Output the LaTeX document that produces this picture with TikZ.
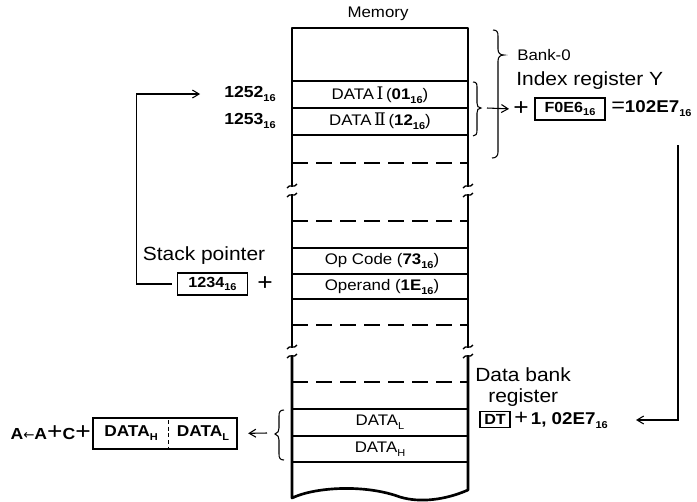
\documentclass[tikz,border=0pt]{standalone}
\usepackage{fontspec}
\setmainfont{Liberation Sans}[FakeStretch=1.1]
\newfontfamily\rn{DejaVu Serif}
\newfontfamily\dv{DejaVu Sans}
\usetikzlibrary{arrows.meta}
\newcommand\fs[1]{\fontsize{#1}{#1}\selectfont}
\newcommand\lo[1]{\raisebox{-0.45ex}{\fontsize{7.5}{8}\selectfont\bfseries #1}}
\newcommand\lr[1]{\raisebox{-0.45ex}{\fontsize{7.5}{8}\selectfont #1}}
\begin{document}
\begin{tikzpicture}[x=0.75pt,y=-0.75pt,
 wall/.style={line width=2pt, line join=round},
 row/.style={line width=0.8pt},
 dsh/.style={line width=0.8pt, dash pattern=on 12pt off 6pt},
 txt/.style={inner sep=0pt, font=\fs{11.5}},
 big/.style={inner sep=0pt, font=\fs{14.3}},
 num/.style={inner sep=0pt, font=\fs{12}\bfseries},
 pls/.style={inner sep=0pt, font=\fs{18}},
 regbox/.style={draw, line width=0.8pt, inner sep=0pt, font=\fs{11}\bfseries},
 arr/.style={line width=0.8pt, -{Straight Barb[length=5pt,width=6pt]}},
 thin/.style={line width=0.8pt},
 brkmark/.pic={\draw[line width=1pt] (-5,2) .. controls (-2,-3) and (2,3) .. (5,-2);}]
\useasboundingbox (0,0) rectangle (697,501);

% memory column
\draw[wall] (292,187) -- (292,28) -- (468,28) -- (468,187);
\draw[wall] (292,194) -- (292,348);
\draw[wall] (468,194) -- (468,348);
\draw[wall] (292,355) -- (292,498) .. controls (315,487) and (365,484) .. (400,497)
  .. controls (420,503) and (445,500) .. (468,490) -- (468,355);
\foreach \xx in {292,468}{
  \pic at (\xx,186) {brkmark};
  \pic at (\xx,195) {brkmark};
  \pic at (\xx,347) {brkmark};
  \pic at (\xx,356) {brkmark};
}
\foreach \yy in {81,108,135,248,274,299,409,436,462}{
  \draw[row] (292,\yy) -- (468,\yy);
}
\foreach \yy in {163,221,325,382}{
  \draw[dsh] (292,\yy) -- (468,\yy);
}

\node[txt] (mem) at (378,14) {Memory};
\node[txt] (d1) at (380,95) {DATA\,{\rn\fs{13}Ⅰ}\,(\textbf{01}\lo{16})};
\node[txt] (d2) at (380,121) {DATA\,{\rn\fs{13}Ⅱ}\,(\textbf{12}\lo{16})};
\node[txt] (op) at (382,261) {Op Code (\textbf{73}\lo{16})};
\node[txt] (od) at (382,287) {Operand (\textbf{1E}\lo{16})};
\node[txt] (dl) at (380,422) {DATA\lr{L}};
\node[txt] (dh) at (380,449) {DATA\lr{H}};

% left addresses and stack pointer
\node[num, anchor=east] (a1) at (276,94) {1252\lo{16}};
\node[num, anchor=east] (a2) at (276,121) {1253\lo{16}};
\node[big] (spt) at (204,256) {Stack pointer};
\node[regbox, minimum width=53pt, minimum height=16.5pt] (sp) at (212.5,284) {1234\lo{16}};
\node[pls] (sppl) at (265,284) {+};
\draw[arr, shorten <=3.5pt, shorten >=18pt] (sp.west) -- ++(-40,0) |- (a1.west);

% right: bank-0 and index register
\draw[thin] (493,30) .. controls (497,30) and (498,32) .. (498,36) -- (498,49)
  .. controls (498,53) and (500,55) .. (504,55)
  .. controls (500,55) and (498,57) .. (498,61) -- (498,152)
  .. controls (498,156) and (496,158) .. (492,158);
\draw[thin] (473,82) .. controls (477,82) and (477,84) .. (477,88) -- (477,103)
  .. controls (477,106) and (478,108) .. (481,108)
  .. controls (478,108) and (477,110) .. (477,113) -- (477,130)
  .. controls (477,134) and (476,136) .. (473,136);
\node[txt, anchor=west] (bank) at (517,55) {Bank-0};
\node[big, anchor=west] (iry) at (516,81) {Index register Y};
\coordinate (bt) at (487,108);
\node[pls] (ypl) at (521,109) {+};
\draw[arr, shorten >=3pt] (bt) -- (ypl.west);
\node[regbox, minimum width=52.5pt, minimum height=16.5pt] (y) at (570,109) {F0E6\lo{16}};
\node[num, anchor=west, font=\fs{12.8}\bfseries] (res) at (611,109) {{\fs{16}\mdseries =}102E7\lo{16}};

% data bank register
\node[big, anchor=west] (dbr1) at (475,375) {Data bank};
\node[big, anchor=west] (dbr2) at (488,398) {register};
\node[regbox, minimum width=22.5pt, minimum height=12pt] (dt) at (495,419.5) {DT};
\node[num, anchor=west, font=\fs{12.8}\bfseries] (dbv) at (514,420) {{\fs{16}\mdseries +}\,1, 02E7\lo{16}};
\coordinate (c1) at (678,145);
\draw[arr, shorten >=21pt] (c1) |- (dbv.east);

% bottom left accumulator
\draw[thin] (284,410) .. controls (280,410) and (279,412) .. (279,416) -- (279,428)
  .. controls (279,431) and (278,433) .. (275,434)
  .. controls (278,435) and (279,437) .. (279,440) -- (279,454)
  .. controls (279,458) and (280,460) .. (284,460);
\node[draw, line width=1.8pt, minimum width=108pt, minimum height=23.25pt, inner sep=0pt] (acc) at (165,433.5) {};
\draw[line width=0.6pt, dash pattern=on 3pt off 2pt] (168,420) -- (168,447);
\node[num, font=\fs{11.8}\bfseries] (ah) at (131,433) {DATA\lo{H}};
\node[num, font=\fs{11.8}\bfseries] (al) at (203,433) {DATA\lo{L}};
\node[num, anchor=east, font=\fs{12}\bfseries] (eq) at (91,433) {A{\dv\mdseries\fs{10}←}A{\fs{18}\mdseries +}C{\fs{18}\mdseries +}};
\coordinate (c2) at (267,433);
\draw[arr, shorten >=7.5pt] (c2) -- (acc.east);
\end{tikzpicture}
\end{document}
